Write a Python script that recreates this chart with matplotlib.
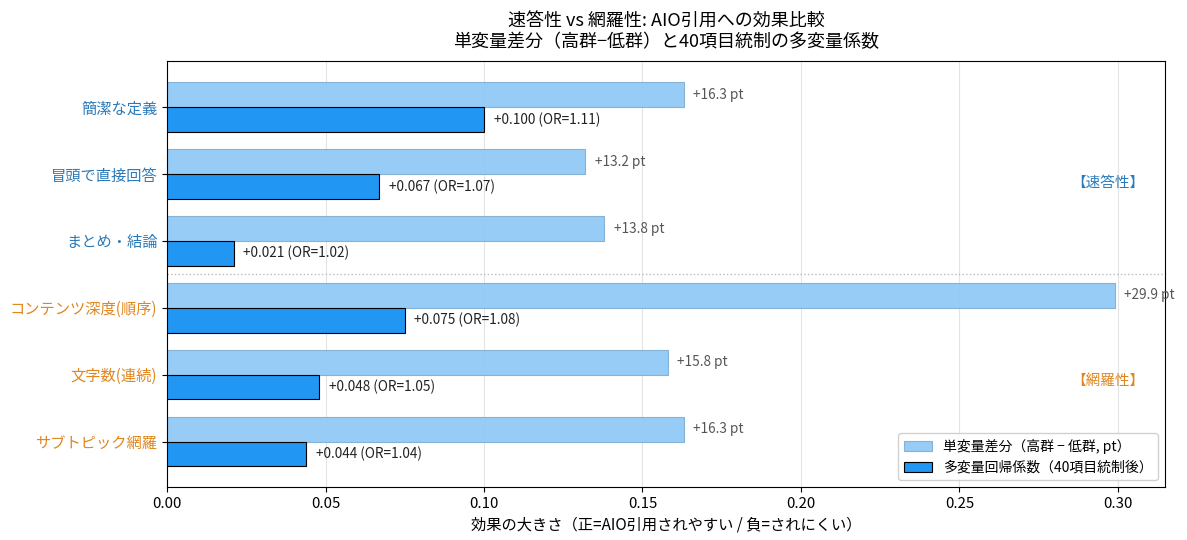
import matplotlib
matplotlib.use("Agg")
import matplotlib.pyplot as plt
import numpy as np

plt.rcParams['font.family'] = ['Noto Sans CJK JP', 'DejaVu Sans']

# 項目とグループ
items = ['簡潔な定義', '冒頭で直接回答', 'まとめ・結論',
         'コンテンツ深度(順序)', '文字数(連続)', 'サブトピック網羅']
groups = ['速答性', '速答性', '速答性', '網羅性', '網羅性', '網羅性']

# 単変量差分（pt）と多変量回帰係数
diff_pt = [16.3, 13.2, 13.8, 29.9, 15.8, 16.3]
coef = [0.100, 0.067, 0.021, 0.075, 0.048, 0.044]
odds = [1.11, 1.07, 1.02, 1.08, 1.05, 1.04]

group_color = {'速答性': '#2b7bba', '網羅性': '#e0861f'}

fig, ax = plt.subplots(figsize=(11.87, 5.4), dpi=100)
fig.subplots_adjust(left=0.1407, right=0.9815, top=0.887, bottom=0.098)

y = np.arange(len(items))
h = 0.37
diff_scaled = np.array(diff_pt) / 100

ax.barh(y - h / 2, diff_scaled, height=h, color='#8ec8f6', alpha=0.92,
        edgecolor='#80aed2', linewidth=0.8, label='単変量差分（高群 − 低群, pt）', zorder=2)
ax.barh(y + h / 2, coef, height=h, color='#2196F3',
        edgecolor='black', linewidth=0.8, label='多変量回帰係数（40項目統制後）', zorder=3)

for i in range(len(items)):
    ax.text(diff_scaled[i] + 0.003, y[i] - h / 2, f'+{diff_pt[i]:.1f} pt',
            va='center', ha='left', fontsize=9.8, color='#555555')
    ax.text(coef[i] + 0.003, y[i] + h / 2, f'+{coef[i]:.3f} (OR={odds[i]:.2f})',
            va='center', ha='left', fontsize=9.8, color='#222222')

ax.set_yticks(y)
ax.set_yticklabels(items, fontsize=11)
for lab, g in zip(ax.get_yticklabels(), groups):
    lab.set_color(group_color[g])

ax.set_ylim(5.68, -0.69)
ax.set_xlim(0, max(diff_scaled) * 1.053)
ax.axhline(2.5, color='#bbbbbb', linestyle=':', linewidth=1, zorder=1)

ax.text(0.979, 1.13, '【速答性】', transform=ax.get_yaxis_transform(),
        ha='right', va='center', fontsize=10.5, color=group_color['速答性'])
ax.text(0.979, 4.1, '【網羅性】', transform=ax.get_yaxis_transform(),
        ha='right', va='center', fontsize=10.5, color=group_color['網羅性'])

ax.grid(axis='x', color='#e3e3e3', linewidth=0.8, zorder=0)
ax.set_axisbelow(True)
ax.tick_params(axis='x', labelsize=10.8)

ax.set_xlabel('効果の大きさ（正=AIO引用されやすい / 負=されにくい）', fontsize=11)
ax.set_title('速答性 vs 網羅性: AIO引用への効果比較\n単変量差分（高群−低群）と40項目統制の多変量係数',
             fontsize=13, pad=10)
ax.legend(loc='lower right', fontsize=10, framealpha=0.9)

plt.savefig('out.png', dpi=100)
